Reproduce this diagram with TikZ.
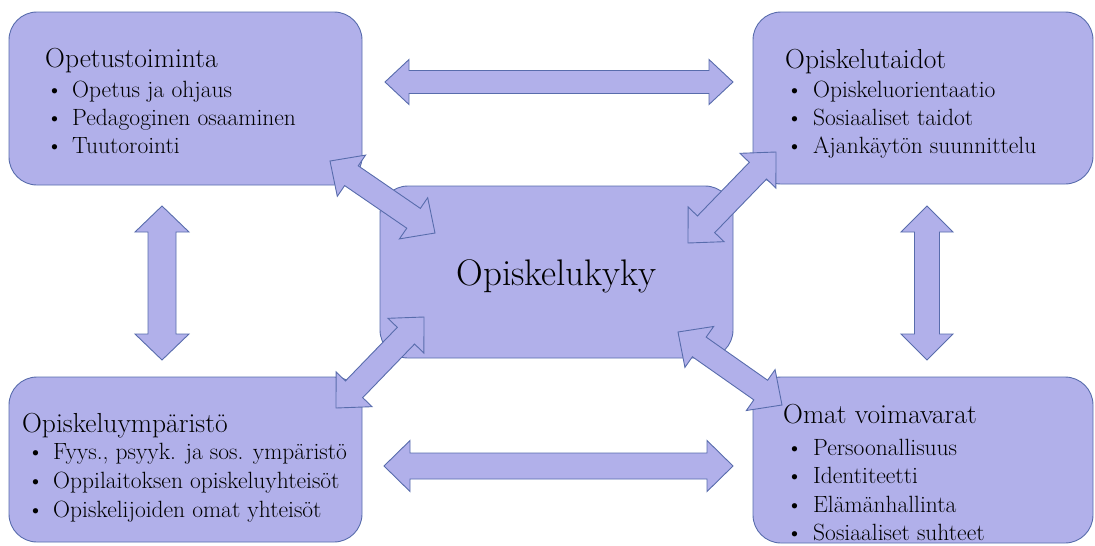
\documentclass[tikz,border=0pt]{standalone}
\usepackage{fontspec}
\usetikzlibrary{calc}
\definecolor{boxfill}{RGB}{177,176,234}
\definecolor{boxline}{RGB}{88,108,172}
\newcommand{\dblarrow}[5]{%
  \path ($(#1)!#5!(#2)$) coordinate (ha) ($(#2)!#5!(#1)$) coordinate (hb);
  \draw[blockarrow] (#1) -- ($(ha)!#4!90:(#2)$) -- ($(ha)!#3!90:(#2)$)
    -- ($(hb)!#3!-90:(#1)$) -- ($(hb)!#4!-90:(#1)$) -- (#2)
    -- ($(hb)!#4!90:(#1)$) -- ($(hb)!#3!90:(#1)$)
    -- ($(ha)!#3!-90:(#2)$) -- ($(ha)!#4!-90:(#2)$) -- cycle;}
\tikzset{
  box/.style={draw=boxline, fill=boxfill, rounded corners=28pt, line width=0.9pt, inner sep=0pt},
  blockarrow/.style={draw=boxline, fill=boxfill, line width=0.9pt, line join=miter},
  boxtitle/.style={font=\fontsize{27.5}{33}\selectfont, anchor=base west, inner sep=0pt},
  item/.style={font=\fontsize{23.5}{28}\selectfont, anchor=base west, inner sep=0pt},
  bul/.style={font=\fontsize{23.5}{28}\selectfont, anchor=base west, inner sep=0pt},
  centertext/.style={font=\fontsize{37}{44}\selectfont, anchor=base, inner sep=0pt}
}
\begin{document}
\begin{tikzpicture}[x=1pt,y=-1pt]
\useasboundingbox (0,0) rectangle (1095,546);
% boxes
\node[box, minimum width=353pt, minimum height=173pt] (tl) at (185.5,98.5) {};
\node[box, minimum width=340pt, minimum height=172pt] (tr) at (923,98) {};
\node[box, minimum width=353pt, minimum height=172pt] (c) at (556.5,272) {};
\node[box, minimum width=353pt, minimum height=165pt] (bl) at (185.5,459.5) {};
\node[box, minimum width=340pt, minimum height=166pt] (br) at (923,460) {};
% arrow end points
\coordinate (ta1) at (385,82);  \coordinate (ta2) at (733,82);
\coordinate (ba1) at (384,466); \coordinate (ba2) at (733,466);
\coordinate (la1) at (162,206); \coordinate (la2) at (162,360);
\coordinate (ra1) at (927,206); \coordinate (ra2) at (927,360);
\coordinate (d1a) at (330,161); \coordinate (d1b) at (435,233);
\coordinate (d2a) at (688,243); \coordinate (d2b) at (776,152);
\coordinate (d3a) at (336,408); \coordinate (d3b) at (424,317);
\coordinate (d4a) at (678,332); \coordinate (d4b) at (782,405);
% block arrows
\dblarrow{ta1}{ta2}{11.5pt}{22.5pt}{24pt}
\dblarrow{ba1}{ba2}{13pt}{25.5pt}{26pt}
\dblarrow{la1}{la2}{14pt}{27pt}{26pt}
\dblarrow{ra1}{ra2}{12.5pt}{26pt}{26pt}
\dblarrow{d1a}{d1b}{12pt}{25pt}{26pt}
\dblarrow{d2a}{d2b}{12pt}{25pt}{26pt}
\dblarrow{d3a}{d3b}{12pt}{25pt}{26pt}
\dblarrow{d4a}{d4b}{12pt}{25pt}{26pt}
% texts
\node[centertext] (ct) at (556.5,285) {Opiskelukyky};
% top left
\node[boxtitle] (tlt) at (45,67) {Opetustoiminta};
\node[bul] (tlb1) at (46,97) {\textbullet}; \node[item] (tli1) at (72,97) {Opetus ja ohjaus};
\node[bul] (tlb2) at (46,125) {\textbullet}; \node[item] (tli2) at (72,125) {Pedagoginen osaaminen};
\node[bul] (tlb3) at (46,153) {\textbullet}; \node[item] (tli3) at (72,153) {Tuutorointi};
% top right
\node[boxtitle] (trt) at (785,68) {Opiskelutaidot};
\node[bul] (trb1) at (786,97) {\textbullet}; \node[item] (tri1) at (813,97) {Opiskeluorientaatio};
\node[bul] (trb2) at (786,125) {\textbullet}; \node[item] (tri2) at (813,125) {Sosiaaliset taidot};
\node[bul] (trb3) at (786,153) {\textbullet}; \node[item] (tri3) at (813,153) {Ajankäytön suunnittelu};
% bottom left
\node[boxtitle] (blt) at (22,432) {Opiskeluympäristö};
\node[bul] (blb1) at (27,459) {\textbullet}; \node[item] (bli1) at (53,459) {Fyys., psyyk. ja sos. ympäristö};
\node[bul] (blb2) at (27,488) {\textbullet}; \node[item] (bli2) at (53,488) {Oppilaitoksen opiskeluyhteisöt};
\node[bul] (blb3) at (27,517) {\textbullet}; \node[item] (bli3) at (53,517) {Opiskelijoiden omat yhteisöt};
% bottom right
\node[boxtitle] (brt) at (783,423) {Omat voimavarat};
\node[bul] (brb1) at (786,455) {\textbullet}; \node[item] (bri1) at (813,455) {Persoonallisuus};
\node[bul] (brb2) at (786,483) {\textbullet}; \node[item] (bri2) at (813,483) {Identiteetti};
\node[bul] (brb3) at (786,512) {\textbullet}; \node[item] (bri3) at (813,512) {Elämänhallinta};
\node[bul] (brb4) at (786,540) {\textbullet}; \node[item] (bri4) at (813,540) {Sosiaaliset suhteet};
\end{tikzpicture}
\end{document}
